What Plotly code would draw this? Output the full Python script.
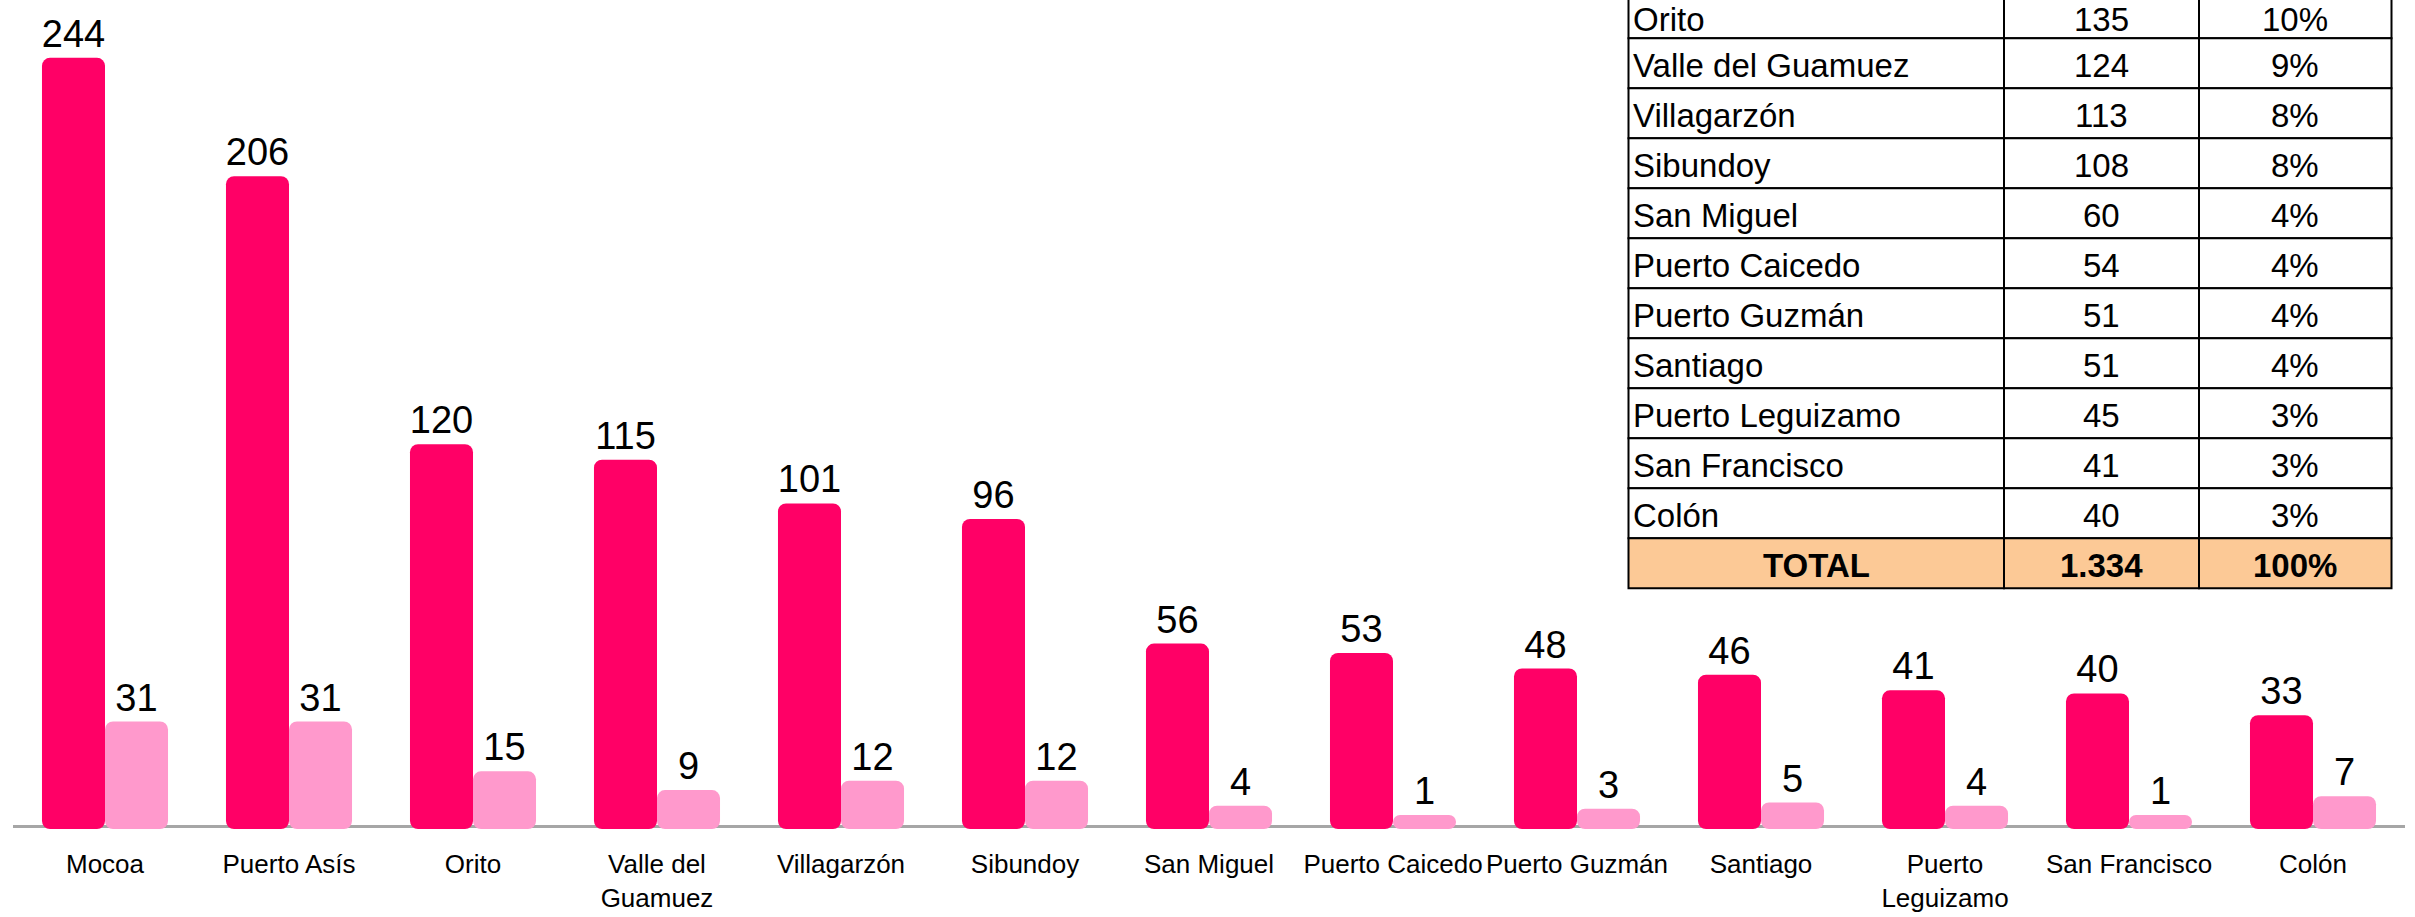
import plotly.graph_objects as go

# ---------------- data ----------------
categories = ["Mocoa", "Puerto Asís", "Orito", "Valle del Guamuez", "Villagarzón",
              "Sibundoy", "San Miguel", "Puerto Caicedo", "Puerto Guzmán", "Santiago",
              "Puerto Leguizamo", "San Francisco", "Colón"]
tick_labels = ["Mocoa", "Puerto Asís", "Orito", "Valle del<br>Guamuez", "Villagarzón",
               "Sibundoy", "San Miguel", "Puerto Caicedo", "Puerto Guzmán", "Santiago",
               "Puerto<br>Leguizamo", "San Francisco", "Colón"]
series_dark = [244, 206, 120, 115, 101, 96, 56, 53, 48, 46, 41, 40, 33]
series_light = [31, 31, 15, 9, 12, 12, 4, 1, 3, 5, 4, 1, 7]

table_totals = [a + b for a, b in zip(series_dark, series_light)]
grand_total = sum(table_totals)
table_pct = [f"{round(v / grand_total * 100)}%" for v in table_totals]
total_label = f"{grand_total:,}".replace(",", ".")

# ---------------- geometry ----------------
W, H = 2415, 917
ML, MR, MT, MB = 13, 10, 0, 88
PW, PH = W - ML - MR, H - MT - MB
PX_PER_UNIT = 3.116
Y_MIN = -3.5                # value axis starts a little below zero; bars rise from there
Y_MAX = Y_MIN + PH / PX_PER_UNIT

FONT = "Liberation Sans Narrow, Arial Narrow, Liberation Sans, Arial, sans-serif"
DARK = "#FF0066"
LIGHT = "#FF99CC"


def px_x(x):
    return (x - ML) / PW


def px_y(y):
    return (MT + PH - y) / PH


fig = go.Figure()
for vals, col in ((series_dark, DARK), (series_light, LIGHT)):
    fig.add_trace(go.Bar(
        x=categories, y=[v - Y_MIN for v in vals], base=Y_MIN, text=vals,
        marker=dict(color=col, cornerradius=8, line=dict(width=0)),
        texttemplate="%{text}", textposition="outside", cliponaxis=True, constraintext="none",
        textfont=dict(size=38, color="black", family=FONT), showlegend=False, hoverinfo="skip"))

shapes = []
annotations = []

# baseline (drawn beneath the bars)
shapes.append(dict(type="line", xref="paper", yref="paper", x0=0, x1=1,
                   y0=px_y(826.5), y1=px_y(826.5), line=dict(color="#A6A6A6", width=3),
                   layer="below"))

# ---------------- table (partially above the visible page) ----------------
col_x = [1628.5, 2004, 2199, 2391.5]
row_h = 50
first_row_top = -11.7 - 2 * row_h  # Orito (3rd row) starts just above the page edge

rows = [(c, str(t), p, False) for c, t, p in zip(categories, table_totals, table_pct)]
rows.append(("TOTAL", total_label, "100%", True))
for i, (name, tot, pct, is_total) in enumerate(rows):
    top = first_row_top + i * row_h
    bot = top + row_h
    if bot < 0:
        continue
    fill = "#FCC996" if is_total else "white"
    for c in range(3):
        shapes.append(dict(type="rect", xref="paper", yref="paper",
                           x0=px_x(col_x[c]), x1=px_x(col_x[c + 1]),
                           y0=px_y(bot), y1=px_y(top),
                           fillcolor=fill, line=dict(color="black", width=2), layer="above"))
    yc = px_y(max((top + bot) / 2 + 2, 19.5))
    tf = dict(size=33, color="black", family=FONT)
    b0, b1 = ("<b>", "</b>") if is_total else ("", "")
    if is_total:
        annotations.append(dict(xref="paper", yref="paper", x=px_x((col_x[0] + col_x[1]) / 2), y=yc,
                                text=f"{b0}{name}{b1}", showarrow=False, xanchor="center",
                                yanchor="middle", font=tf))
    else:
        annotations.append(dict(xref="paper", yref="paper", x=px_x(col_x[0] + 3), y=yc,
                                text=name, showarrow=False, xanchor="left",
                                yanchor="middle", font=tf))
    annotations.append(dict(xref="paper", yref="paper", x=px_x((col_x[1] + col_x[2]) / 2), y=yc,
                            text=f"{b0}{tot}{b1}", showarrow=False, xanchor="center",
                            yanchor="middle", font=tf))
    annotations.append(dict(xref="paper", yref="paper", x=px_x((col_x[2] + col_x[3]) / 2), y=yc,
                            text=f"{b0}{pct}{b1}", showarrow=False, xanchor="center",
                            yanchor="middle", font=tf))

fig.update_layout(
    width=W, height=H,
    margin=dict(l=ML, r=MR, t=MT, b=MB, pad=0, autoexpand=False),
    paper_bgcolor="white", plot_bgcolor="white",
    barmode="group", bargap=0.315, bargroupgap=0,
    font=dict(family=FONT, color="black"),
    shapes=shapes, annotations=annotations,
    hovermode=False,
    xaxis=dict(tickmode="array", tickvals=categories, ticktext=tick_labels,
               tickfont=dict(size=26, family=FONT, color="black"), tickangle=0,
               automargin=False, showline=False,
               ticks="", showgrid=False, zeroline=False, ticklabelstandoff=17),
    yaxis=dict(range=[Y_MIN, Y_MAX], visible=False, showgrid=False, zeroline=False,
               automargin=False),
)

fig.write_html("out.html", config={"displayModeBar": False},
               post_script="document.body.style.margin='0';document.body.style.overflow='hidden';")
